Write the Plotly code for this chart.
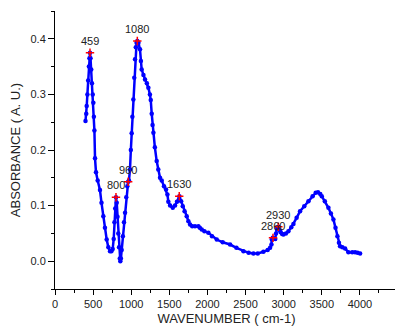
import plotly.graph_objects as go

wavenumber = [400, 410, 416, 425, 435, 445, 452, 459, 466, 475, 485, 495, 503, 510, 517, 525, 538, 560, 590, 610,
              634, 655, 678, 700, 722, 740, 757, 770, 780, 790, 800, 810, 820, 830, 840, 850, 857, 865, 875, 890,
              905, 919, 935, 949, 960, 970, 984, 995, 1006, 1015, 1028, 1040, 1050, 1060, 1070, 1080, 1095, 1115,
              1127, 1137, 1160, 1181, 1205, 1225, 1245, 1256, 1269, 1280, 1291, 1310, 1334, 1355, 1378, 1400, 1430,
              1457, 1475, 1487, 1510, 1545, 1575, 1600, 1632, 1655, 1676, 1700, 1728, 1750, 1772, 1800, 1837, 1881,
              1900, 1925, 1960, 2012, 2060, 2122, 2200, 2297, 2380, 2472, 2540, 2603, 2660, 2734, 2790, 2822, 2840,
              2844, 2857, 2875, 2890, 2900, 2910, 2931, 2950, 2962, 2980, 2997, 3030, 3062, 3100, 3128, 3170, 3215,
              3270, 3325, 3380, 3420, 3450, 3480, 3500, 3540, 3587, 3620, 3653, 3680, 3705, 3725, 3740, 3770, 3806,
              3849, 3900, 3937, 3970, 4003]
absorbance = [0.252, 0.265, 0.279, 0.300, 0.325, 0.350, 0.365, 0.375, 0.365, 0.345, 0.320, 0.300, 0.285, 0.260,
              0.235, 0.185, 0.160, 0.145, 0.128, 0.105, 0.081, 0.060, 0.039, 0.025, 0.018, 0.018, 0.022, 0.040,
              0.070, 0.095, 0.115, 0.105, 0.080, 0.050, 0.025, 0.005, 0.000, 0.005, 0.020, 0.045, 0.070, 0.087,
              0.115, 0.135, 0.143, 0.145, 0.165, 0.200, 0.230, 0.260, 0.291, 0.330, 0.363, 0.385, 0.393, 0.396,
              0.393, 0.381, 0.360, 0.345, 0.335, 0.327, 0.320, 0.312, 0.300, 0.290, 0.265, 0.245, 0.231, 0.205,
              0.180, 0.165, 0.150, 0.145, 0.135, 0.129, 0.120, 0.107, 0.100, 0.096, 0.100, 0.107, 0.117, 0.108,
              0.099, 0.090, 0.081, 0.072, 0.066, 0.063, 0.063, 0.063, 0.060, 0.057, 0.054, 0.051, 0.045, 0.039,
              0.034, 0.030, 0.024, 0.018, 0.015, 0.014, 0.014, 0.017, 0.020, 0.024, 0.030, 0.039, 0.042, 0.041,
              0.040, 0.050, 0.058, 0.062, 0.055, 0.052, 0.049, 0.048, 0.050, 0.054, 0.061, 0.067, 0.078, 0.090,
              0.099, 0.108, 0.117, 0.123, 0.124, 0.121, 0.117, 0.108, 0.096, 0.086, 0.075, 0.060, 0.045, 0.033,
              0.027, 0.025, 0.023, 0.016, 0.016, 0.016, 0.015, 0.014]

peak_x = [459, 800, 960, 1080, 1630, 2860, 2930]
peak_y = [0.375, 0.115, 0.143, 0.396, 0.117, 0.042, 0.062]
peak_labels = ["459", "800", "960", "1080", "1630", "2860", "2930"]

FONT = "Arial, Liberation Sans, sans-serif"

fig = go.Figure()
fig.add_trace(go.Scatter(
    x=wavenumber, y=absorbance, mode="lines+markers",
    line=dict(color="#0000ff", width=2.5),
    marker=dict(color="#0000ff", size=4.5, symbol="circle", line=dict(width=0)),
    showlegend=False, hoverinfo="skip"))
fig.add_trace(go.Scatter(
    x=peak_x, y=peak_y, mode="markers",
    marker=dict(color="red", size=6, symbol="cross-thin", line=dict(color="red", width=1.5)),
    showlegend=False, hoverinfo="skip"))

for px, py, lab in zip(peak_x, peak_y, peak_labels):
    fig.add_annotation(x=px, y=py, text=lab, showarrow=False, yshift=12,
                       font=dict(family=FONT, size=11, color="#222222"))

fig.update_layout(
    width=395, height=320,
    margin=dict(l=47, r=5, t=3, b=39),
    paper_bgcolor="white", plot_bgcolor="white",
    font=dict(family=FONT, size=11, color="#222222"),
    xaxis=dict(range=[0, 4500], tick0=0, dtick=500, showgrid=False, zeroline=False,
               showline=True, linecolor="black", linewidth=1,
               ticks="outside", ticklen=5, tickcolor="black", tickwidth=1,
               minor=dict(dtick=250, ticks="outside", ticklen=3, tickcolor="black", showgrid=False),
               title=dict(text="WAVENUMBER ( cm-1)", font=dict(size=13), standoff=4),
               tickfont=dict(size=11)),
    yaxis=dict(range=[-0.05, 0.45], tick0=0, dtick=0.1, tickformat=".1f", showgrid=False, zeroline=False,
               showline=True, linecolor="black", linewidth=1,
               ticks="outside", ticklen=6, tickcolor="black", tickwidth=1,
               minor=dict(dtick=0.05, ticks="outside", ticklen=3, tickcolor="black", showgrid=False),
               title=dict(text="ABSORBANCE ( A. U.)", font=dict(size=13), standoff=6),
               tickfont=dict(size=11)),
)

fig.write_html("out.html")
